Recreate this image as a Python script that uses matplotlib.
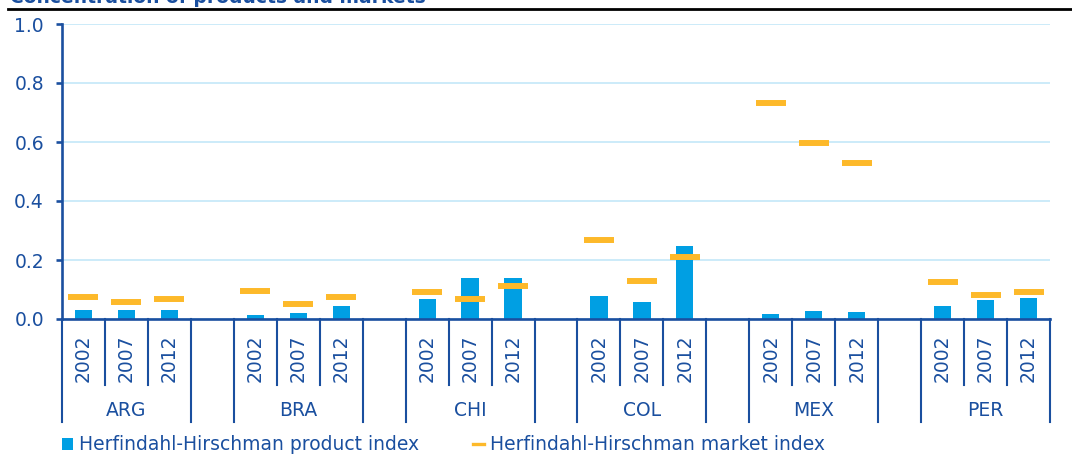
import matplotlib

matplotlib.use("Agg")
import matplotlib.pyplot as plt  # noqa: E402
from matplotlib.lines import Line2D  # noqa: E402
from matplotlib.patches import Patch  # noqa: E402
from matplotlib.transforms import blended_transform_factory  # noqa: E402

countries = ["ARG", "BRA", "CHI", "COL", "MEX", "PER"]
years = ["2002", "2007", "2012"]
# Herfindahl-Hirschman product index (bars)
product_index = [
    [0.030, 0.032, 0.032],
    [0.015, 0.020, 0.045],
    [0.068, 0.138, 0.139],
    [0.078, 0.058, 0.246],
    [0.017, 0.028, 0.024],
    [0.044, 0.064, 0.071],
]
# Herfindahl-Hirschman market index (dashes)
market_index = [
    [0.076, 0.059, 0.069],
    [0.096, 0.052, 0.076],
    [0.093, 0.069, 0.113],
    [0.269, 0.130, 0.211],
    [0.732, 0.597, 0.529],
    [0.126, 0.082, 0.092],
]
yticks = [0.0, 0.2, 0.4, 0.6, 0.8, 1.0]

BLUE = "#009FE3"
ORANGE = "#FDB92A"
NAVY = "#1A4F9F"
GRID = "#CCEBF9"

plt.rcParams["font.family"] = ["DejaVu Sans"]

W, H = 1072, 457
fig = plt.figure(figsize=(W / 100, H / 100), dpi=100)
ax = fig.add_axes([62 / W, 1 - 319 / H, (1050 - 62) / W, 295 / H])

slot = len(years) + 1
xs, bars, marks = [], [], []
for g in range(len(countries)):
    for j in range(len(years)):
        xs.append(g * slot + j)
        bars.append(product_index[g][j])
        marks.append(market_index[g][j])

ax.bar(xs, bars, width=0.4, color=BLUE, zorder=2)
ax.plot(xs, marks, linestyle="none", marker="_", markersize=21.6,
        markeredgewidth=4.3, color=ORANGE, zorder=3)

ax.set_xlim(-0.5, len(countries) * slot - 1.5)
ax.set_ylim(0, 1.0)
ax.set_yticks(yticks)
ax.set_yticklabels([f"{v:.1f}" for v in yticks])
ax.set_xticks([])
ax.yaxis.grid(True, color=GRID, linewidth=1.4, zorder=0)
ax.set_axisbelow(True)
for s in ("top", "right"):
    ax.spines[s].set_visible(False)
for s in ("left", "bottom"):
    ax.spines[s].set_color(NAVY)
    ax.spines[s].set_linewidth(1.9)
ax.tick_params(axis="y", colors=NAVY, labelsize=13.5, length=4, width=1.9,
               pad=9, labelcolor=NAVY)

# category axis: years and countries with separators below the plot
trans = blended_transform_factory(ax.transData, ax.transAxes)
short_y = -66 / 295
long_y = -103 / 295
for g, name in enumerate(countries):
    start = g * slot
    for k in range(len(years) + 1):
        x = start - 0.5 + k
        bottom = long_y if k in (0, len(years)) else short_y
        ax.add_line(Line2D([x, x], [0, bottom], transform=trans, color=NAVY,
                           linewidth=1.5, clip_on=False))
    for j, yr in enumerate(years):
        ax.text(start + j, -39 / 295, yr, transform=trans, rotation=90,
                ha="center", va="center", fontsize=13.5, color=NAVY)
    ax.text(start + 1, -92 / 295, name, transform=trans, ha="center",
            va="center", fontsize=13.5, color=NAVY)

# title (cut off at the top, as in the source) and rule
fig.text(10 / W, 1 - 3 / H, "Concentration of products and markets",
         ha="left", va="baseline", fontsize=13.5, fontweight="bold",
         color=NAVY)
fig.add_artist(Line2D([8 / W, 1], [1 - 8.7 / H] * 2, color="black",
                      linewidth=2))

handles = [
    Patch(facecolor=BLUE, edgecolor="none"),
    Line2D([], [], color=ORANGE, linewidth=2.4),
]
fig.legend(handles, ["Herfindahl-Hirschman product index",
                     "Herfindahl-Hirschman market index"],
           loc="center left", bbox_to_anchor=(62 / W, 1 - 445 / H), ncol=2,
           frameon=False, fontsize=13.5, labelcolor=NAVY, handlelength=0.6,
           handleheight=0.6, handletextpad=0.3, columnspacing=2.88,
           borderaxespad=0, borderpad=0)

fig.savefig("out.png", dpi=100)
